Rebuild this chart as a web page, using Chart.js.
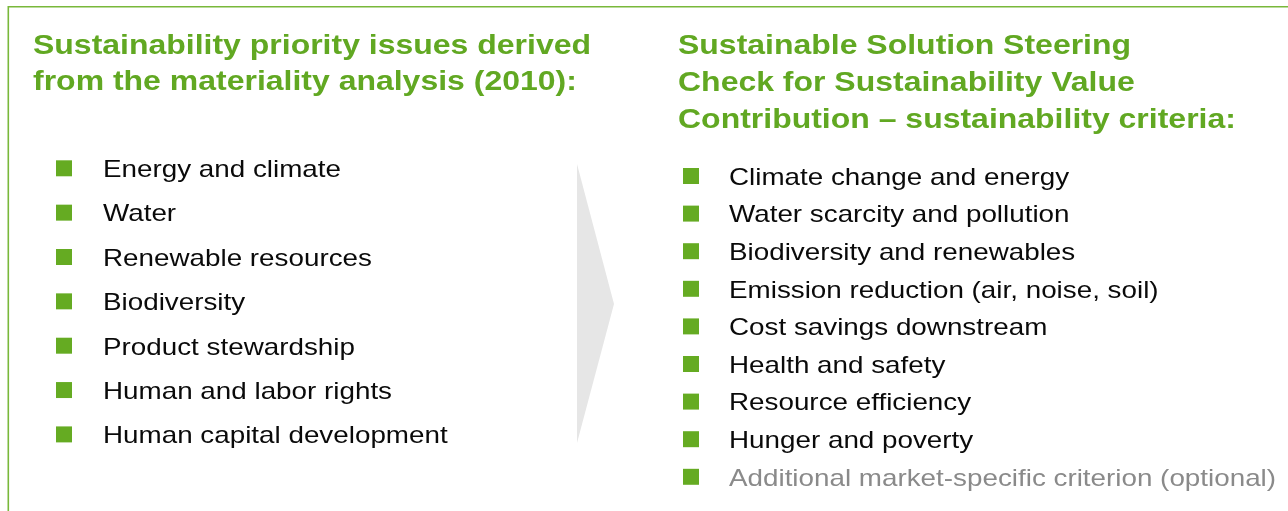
<!DOCTYPE html>
<html>
<head>
<meta charset="utf-8">
<script src="https://cdn.jsdelivr.net/npm/chart.js@4.4.1/dist/chart.umd.min.js"></script>
<style>
  html, body { margin: 0; padding: 0; background: #ffffff; }
  #wrap { position: relative; width: 1288px; height: 511px; }
</style>
</head>
<body>
<div id="wrap"><canvas id="c" width="1288" height="511"></canvas></div>
<script>
// ---- data ----
const leftTitle = ["Sustainability priority issues derived", "from the materiality analysis (2010):"];
const rightTitle = ["Sustainable Solution Steering", "Check for Sustainability Value", "Contribution \u2013 sustainability criteria:"];
const leftItems = ["Energy and climate", "Water", "Renewable resources", "Biodiversity", "Product stewardship", "Human and labor rights", "Human capital development"];
const rightItems = ["Climate change and energy", "Water scarcity and pollution", "Biodiversity and renewables", "Emission reduction (air, noise, soil)", "Cost savings downstream", "Health and safety", "Resource efficiency", "Hunger and poverty", "Additional market-specific criterion (optional)"];
const optionalItems = ["Additional market-specific criterion (optional)"];

// ---- styles ----
const GREEN_TITLE = "#61a822";
const GREEN_BULLET = "#65ab22";
const GREEN_BORDER = "#79b83a";
const TEXT_COLOR = "#0a0a0a";
const GREY_TEXT = "#8a8a8a";
const FONT = "'Liberation Sans', Arial, Helvetica, sans-serif";

const leftPoints = leftItems.map((t, i) => ({ x: 0, y: i }));
const rightPoints = rightItems.map((t, i) => ({ x: 1, y: i }));

const decorPlugin = {
  id: 'decor',
  beforeDatasetsDraw(chart) {
    const ctx = chart.ctx;
    ctx.save();
    // frame
    ctx.strokeStyle = GREEN_BORDER;
    ctx.lineWidth = 1.6;
    ctx.beginPath();
    ctx.moveTo(8.3, 511);
    ctx.lineTo(8.3, 6.8);
    ctx.lineTo(1288, 6.8);
    ctx.stroke();
    // arrow
    ctx.fillStyle = "#e6e6e6";
    ctx.beginPath();
    ctx.moveTo(577, 164);
    ctx.lineTo(614, 304);
    ctx.lineTo(577, 443);
    ctx.closePath();
    ctx.fill();
    // titles
    ctx.fillStyle = GREEN_TITLE;
    ctx.font = "bold 28px " + FONT;
    ctx.textBaseline = "alphabetic";
    const sxT = 558 / ctx.measureText(leftTitle[0]).width;
    leftTitle.forEach((t, i) => {
      ctx.save(); ctx.translate(33, 54 + i * 36); ctx.scale(sxT, 1); ctx.fillText(t, 0, 0); ctx.restore();
    });
    rightTitle.forEach((t, i) => {
      ctx.save(); ctx.translate(678, 54 + i * 37); ctx.scale(sxT, 1); ctx.fillText(t, 0, 0); ctx.restore();
    });
    ctx.restore();
  },
  afterDatasetsDraw(chart) {
    const ctx = chart.ctx;
    ctx.save();
    ctx.font = "24px " + FONT;
    ctx.textBaseline = "alphabetic";
    const sxB = 238 / ctx.measureText(leftItems[0]).width;
    const draw = (dsIndex, items, dx) => {
      const meta = chart.getDatasetMeta(dsIndex);
      meta.data.forEach((el, i) => {
        const t = items[i];
        ctx.fillStyle = optionalItems.includes(t) ? GREY_TEXT : TEXT_COLOR;
        ctx.save(); ctx.translate(el.x + dx, el.y + 8.8); ctx.scale(sxB, 1); ctx.fillText(t, 0, 0); ctx.restore();
      });
    };
    draw(0, leftItems, 39);
    draw(1, rightItems, 38);
    ctx.restore();
  }
};

new Chart(document.getElementById('c'), {
  type: 'scatter',
  data: {
    datasets: [
      { data: leftPoints, yAxisID: 'yL', pointStyle: 'rect', pointRadius: 11.3, pointHoverRadius: 11.3,
        backgroundColor: GREEN_BULLET, borderWidth: 0 },
      { data: rightPoints, yAxisID: 'yR', pointStyle: 'rect', pointRadius: 11.3, pointHoverRadius: 11.3,
        backgroundColor: GREEN_BULLET, borderWidth: 0 }
    ]
  },
  options: {
    responsive: false,
    animation: false,
    events: [],
    layout: { padding: 0, autoPadding: false },
    plugins: { legend: { display: false }, tooltip: { enabled: false } },
    scales: {
      x: { type: 'linear', display: false, min: -64 / 627, max: -64 / 627 + 1288 / 627 },
      yL: { type: 'linear', display: false, reverse: true, min: -168.3 / 44.35, max: -168.3 / 44.35 + 511 / 44.35 },
      yR: { type: 'linear', display: false, reverse: true, min: -176 / 37.6, max: -176 / 37.6 + 511 / 37.6 }
    }
  },
  plugins: [decorPlugin]
});
</script>
</body>
</html>
